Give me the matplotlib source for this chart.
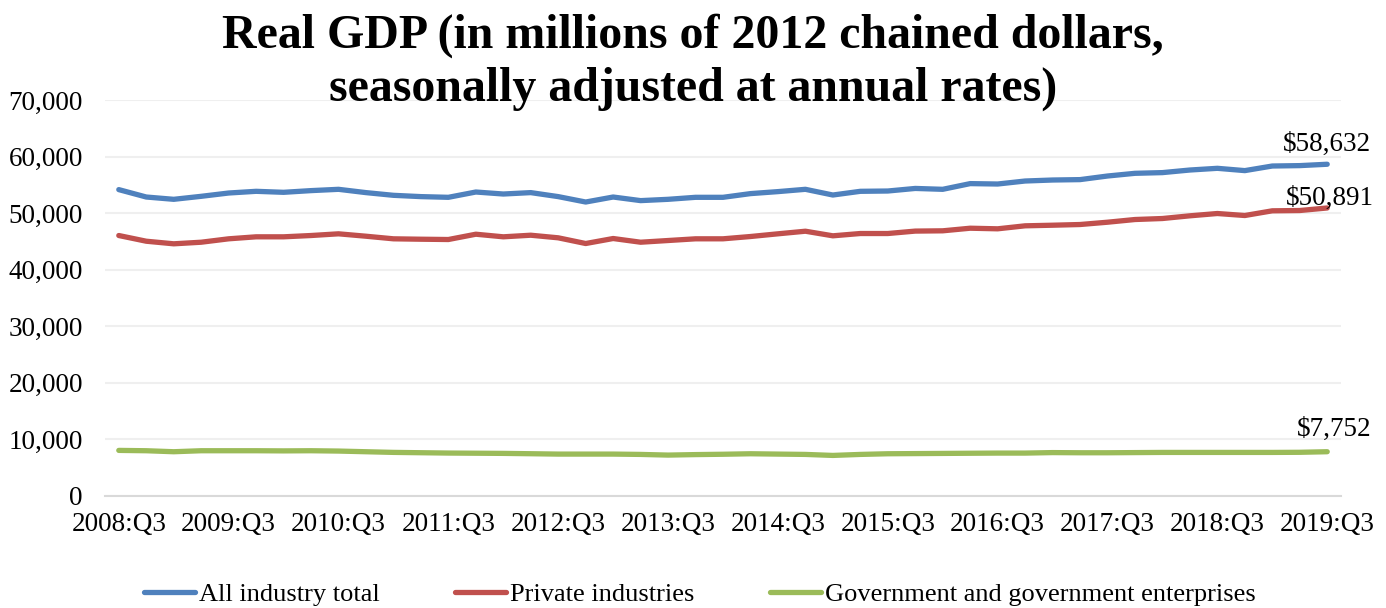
import matplotlib
matplotlib.use("Agg")
import matplotlib.pyplot as plt
from matplotlib.ticker import FuncFormatter

# quarters 2008:Q3 .. 2019:Q3
quarters = [f"{y}:Q{q}" for y in range(2008, 2020) for q in range(1, 5)][2:47]

all_industry = [54142, 52832, 52425, 52956, 53540, 53841, 53664, 53965, 54195, 53611,
                53133, 52903, 52779, 53717, 53363, 53611, 52903, 51947, 52832, 52195,
                52425, 52779, 52779, 53434, 53788, 54195, 53186, 53841, 53894, 54350,
                54195, 55204, 55133, 55664, 55841, 55912, 56549, 57027, 57151, 57611,
                57912, 57505, 58319, 58390, 58632]
private = [46018, 45009, 44549, 44832, 45434, 45788, 45788, 46018, 46319, 45894,
           45434, 45363, 45310, 46248, 45788, 46071, 45611, 44602, 45487, 44832,
           45133, 45434, 45434, 45841, 46319, 46779, 45965, 46372, 46372, 46800,
           46850, 47310, 47204, 47735, 47841, 47965, 48372, 48850, 49027, 49505,
           49912, 49558, 50390, 50443, 50891]
government = [7986, 7927, 7750, 7927, 7927, 7927, 7900, 7927, 7868, 7750,
              7633, 7574, 7515, 7486, 7456, 7397, 7332, 7332, 7332, 7274,
              7155, 7244, 7303, 7391, 7332, 7274, 7096, 7274, 7391, 7421,
              7450, 7480, 7509, 7509, 7598, 7568, 7568, 7598, 7627, 7627,
              7627, 7627, 7627, 7650, 7752]

labels = ["All industry total", "Private industries", "Government and government enterprises"]
colors = ["#4f81bd", "#c0504d", "#9bbb59"]

plt.rcParams['font.family'] = ['Liberation Serif', 'DejaVu Serif']

fig = plt.figure(figsize=(13.86, 6.08), dpi=100)
ax = fig.add_axes([0.0758, 0.185, 0.8917, 0.6505])

x = list(range(len(quarters)))
series = [all_industry, private, government]
offsets = [(0, 5), (2, -2), (5, 7)]
for vals, lab, col, off in zip(series, labels, colors, offsets):
    ax.plot(x, vals, color=col, lw=3.8, label=lab, solid_capstyle='round')
    ax.annotate(f"${vals[-1]:,}", (x[-1], vals[-1]), xytext=off, textcoords='offset points',
                ha='center', va='bottom', fontsize=19.5)

ax.set_xlim(-0.5, len(quarters) - 0.5)
ax.set_ylim(0, 70000)
ax.set_yticks(range(0, 70001, 10000))
ax.yaxis.set_major_formatter(FuncFormatter(lambda v, p: f"{int(v):,}"))
ax.set_xticks(x[::4])
ax.set_xticklabels(quarters[::4])
ax.tick_params(axis='both', length=0, labelsize=19.5)
ax.tick_params(axis='x', pad=12)
ax.tick_params(axis='y', pad=16)
ax.grid(axis='y', color='#efefef', lw=1.5)
ax.set_axisbelow(True)
for s in ['top', 'right', 'left']:
    ax.spines[s].set_visible(False)
ax.spines['bottom'].set_color('#d9d9d9')
ax.spines['bottom'].set_linewidth(1.5)

fig.suptitle("Real GDP (in millions of 2012 chained dollars,\nseasonally adjusted at annual rates)",
             fontsize=34.5, fontweight='bold', y=0.978, linespacing=1.25)

fig.legend(loc='lower center', bbox_to_anchor=(0.505, -0.036), ncol=3, frameon=False,
           fontsize=19, handlelength=1.95, columnspacing=2.85, handletextpad=0.15)

fig.savefig("out.png", dpi=100)
